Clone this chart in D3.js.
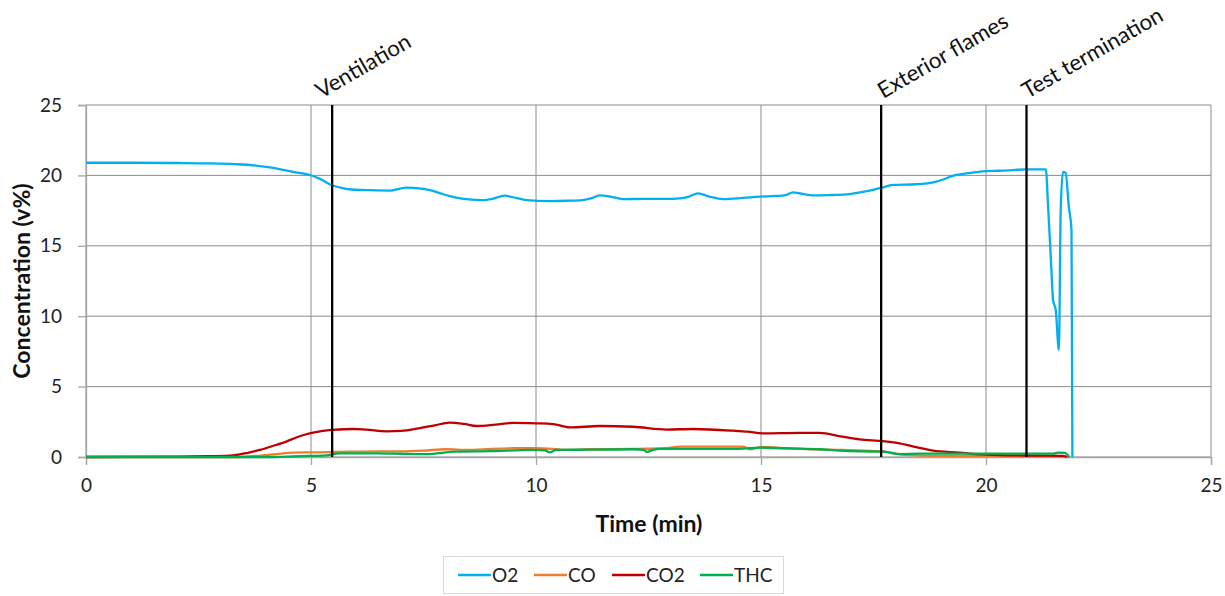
<!DOCTYPE html>
<html><head><meta charset="utf-8">
<script src="https://cdn.jsdelivr.net/npm/d3@7"></script>
<style>body{margin:0;background:#fff;} svg{display:block;font-family:Lato,"Open Sans",sans-serif;}</style>
</head><body><svg id="c" width="1225" height="596"></svg>
<script>
// ---- data ----
const seriesNames = ["O2", "CO", "CO2", "THC"];
const seriesColors = ["#00B0F0", "#ED7D31", "#C00000", "#00B050"];

const o2Time = [0, 1, 2, 2.8, 3.3, 3.64, 4.0, 4.3, 4.6, 4.97, 5.2, 5.45, 5.7, 5.9, 6.3, 6.75, 7.12, 7.4, 7.64, 7.9, 8.23, 8.5, 8.82, 9.05, 9.3, 9.55, 9.79, 10.3, 10.7, 11.04, 11.25, 11.42, 11.65, 11.93, 12.45, 12.9, 13.19, 13.4, 13.6, 13.85, 14.16, 14.6, 14.97, 15.34, 15.55, 15.71, 15.9, 16.16, 16.5, 16.9, 17.3, 17.68, 17.93, 18.45, 18.9, 19.34, 19.7, 20.0, 20.3, 20.6, 20.9, 21.33, 21.38, 21.45, 21.49, 21.55, 21.62, 21.66, 21.71, 21.77, 21.84, 21.9, 21.92];
const o2Val  = [20.9, 20.9, 20.88, 20.85, 20.8, 20.74, 20.6, 20.45, 20.25, 20.03, 19.75, 19.32, 19.1, 19.0, 18.95, 18.92, 19.13, 19.08, 18.96, 18.7, 18.42, 18.3, 18.25, 18.35, 18.56, 18.4, 18.25, 18.18, 18.2, 18.25, 18.4, 18.58, 18.5, 18.32, 18.33, 18.33, 18.37, 18.5, 18.73, 18.5, 18.32, 18.4, 18.49, 18.54, 18.6, 18.8, 18.7, 18.58, 18.6, 18.65, 18.85, 19.13, 19.32, 19.37, 19.56, 20.03, 20.2, 20.31, 20.33, 20.38, 20.43, 20.43, 17.8, 13.5, 11.15, 10.44, 7.6, 17.54, 20.25, 20.19, 17.78, 16.12, 0];

const coTime = [0, 3.4, 3.8, 4.23, 4.6, 5.2, 5.9, 6.5, 7.0, 7.5, 8.0, 8.5, 9.0, 9.5, 10.0, 10.38, 10.67, 11.2, 12.16, 12.9, 13.2, 14.0, 14.6, 14.75, 15.04, 15.4, 16.0, 16.8, 17.3, 17.7, 18.1, 18.6, 19.5, 20.5, 21.5, 21.85];
const coVal  = [0, 0, 0.08, 0.21, 0.31, 0.33, 0.38, 0.4, 0.4, 0.45, 0.55, 0.5, 0.58, 0.62, 0.62, 0.57, 0.5, 0.55, 0.57, 0.62, 0.73, 0.73, 0.73, 0.55, 0.72, 0.65, 0.56, 0.5, 0.45, 0.4, 0.18, 0.1, 0.07, 0.05, 0.05, 0];

const co2Time = [0, 2.08, 2.7, 3.27, 3.6, 3.86, 4.15, 4.45, 4.7, 4.97, 5.2, 5.49, 5.93, 6.23, 6.68, 7.0, 7.42, 7.75, 8.08, 8.4, 8.68, 9.1, 9.49, 10.0, 10.38, 10.75, 11.42, 12.16, 12.9, 13.49, 14.38, 14.7, 15.04, 15.86, 16.3, 16.8, 17.19, 17.71, 18.08, 18.45, 18.82, 19.41, 19.9, 20.5, 21.2, 21.7, 21.8];
const co2Val  = [0, 0.03, 0.06, 0.12, 0.3, 0.5, 0.78, 1.09, 1.42, 1.68, 1.82, 1.92, 1.99, 1.94, 1.82, 1.85, 2.05, 2.25, 2.44, 2.35, 2.2, 2.3, 2.42, 2.39, 2.34, 2.1, 2.2, 2.15, 1.95, 1.99, 1.87, 1.8, 1.68, 1.72, 1.72, 1.45, 1.25, 1.12, 0.97, 0.7, 0.45, 0.31, 0.18, 0.12, 0.1, 0.08, 0];

const thcTime = [0, 4.15, 4.8, 5.35, 5.64, 6.5, 7.0, 7.56, 8.2, 9.0, 9.9, 10.2, 10.3, 10.45, 11.2, 12.16, 12.4, 12.46, 12.6, 12.75, 14.38, 14.97, 15.5, 15.86, 16.3, 16.75, 17.2, 17.7, 18.08, 18.5, 19.4, 20.5, 21.5, 21.6, 21.75, 21.85];
const thcVal  = [0, 0, 0.06, 0.12, 0.26, 0.26, 0.23, 0.21, 0.38, 0.42, 0.5, 0.48, 0.33, 0.5, 0.52, 0.55, 0.5, 0.36, 0.5, 0.57, 0.57, 0.66, 0.62, 0.6, 0.55, 0.45, 0.4, 0.38, 0.21, 0.24, 0.24, 0.24, 0.24, 0.31, 0.3, 0];

const eventNames = ["Ventilation", "Exterior flames", "Test termination"];
const eventTimes = [5.47, 17.67, 20.9];

const xTicks = [0, 5, 10, 15, 20, 25];
const yTicks = [0, 5, 10, 15, 20, 25];
const xTitle = "Time (min)";
const yTitle = "Concentration (v%)";

// ---- layout ----
const svg = d3.select("#c");
const L = 86, R = 1211, T = 105, B = 457;
const x = d3.scaleLinear().domain([0, 25]).range([L, R]);
const y = d3.scaleLinear().domain([0, 25]).range([B, T]);

const gridColor = "#8c8c8c";
svg.append("g").selectAll("line").data(yTicks).join("line")
  .attr("x1", L).attr("x2", R).attr("y1", d => y(d)).attr("y2", d => y(d))
  .attr("stroke", gridColor).attr("stroke-width", 1);
svg.append("g").selectAll("line").data(xTicks).join("line")
  .attr("x1", d => x(d)).attr("x2", d => x(d)).attr("y1", T).attr("y2", B)
  .attr("stroke", gridColor).attr("stroke-width", 1);

const xAxis = svg.append("g").attr("transform", `translate(0,${B})`)
  .call(d3.axisBottom(x).tickValues(xTicks).tickSize(8).tickPadding(14).tickFormat(d3.format("d")));
const yAxis = svg.append("g").attr("transform", `translate(${L},0)`)
  .call(d3.axisLeft(y).tickValues(yTicks).tickSize(8).tickPadding(16).tickFormat(d3.format("d")));
[xAxis, yAxis].forEach(g => {
  g.select(".domain").attr("stroke", "#a6a6a6").attr("stroke-width", 1.3);
  g.selectAll(".tick line").attr("stroke", "#a6a6a6").attr("stroke-width", 1.3);
  g.selectAll(".tick text").attr("fill", "#222").style("font-size", "19px").style("font-family", "Lato");
});

const line = d3.line().x(d => x(d[0])).y(d => y(d[1])).curve(d3.curveMonotoneX);
const zip = (t, v) => t.map((tt, i) => [tt, v[i]]);
const seriesData = [zip(o2Time, o2Val), zip(coTime, coVal), zip(co2Time, co2Val), zip(thcTime, thcVal)];
seriesData.forEach((d, i) => {
  svg.append("path").datum(d).attr("d", line).attr("fill", "none")
    .attr("stroke", seriesColors[i]).attr("stroke-width", 2.3).attr("stroke-linejoin", "round");
});

const labelDx = [-11, 2, 1];
eventTimes.forEach((t, i) => {
  svg.append("line").attr("x1", x(t)).attr("x2", x(t)).attr("y1", T).attr("y2", B)
    .attr("stroke", "#000").attr("stroke-width", 2.3);
  const lx = x(t) + labelDx[i], ly = 99;
  svg.append("text").attr("transform", `translate(${lx},${ly}) rotate(-30)`)
    .attr("fill", "#111").style("font-size", "22.2px").style("font-family", "Lato")
    .text(eventNames[i]);
});

svg.append("text").attr("x", 649).attr("y", 532).attr("text-anchor", "middle")
  .style("font-weight", "bold").style("font-size", "23px").attr("fill", "#111").text(xTitle);
svg.append("text").attr("transform", `translate(30,281) rotate(-90)`).attr("text-anchor", "middle")
  .style("font-weight", "bold").style("font-size", "23px").attr("fill", "#111").text(yTitle);

const lg = svg.append("g");
lg.append("rect").attr("x", 443.5).attr("y", 556.5).attr("width", 340).attr("height", 37)
  .attr("fill", "#fff").attr("stroke", "#d9d9d9");
const legX = [458, 534, 612, 700];
seriesNames.forEach((n, i) => {
  lg.append("line").attr("x1", legX[i]).attr("x2", legX[i] + 33).attr("y1", 575).attr("y2", 575)
    .attr("stroke", seriesColors[i]).attr("stroke-width", 2.3);
  lg.append("text").attr("x", legX[i] + 34).attr("y", 582).style("font-size", "19px")
    .attr("fill", "#222").text(n);
});
</script></body></html>
